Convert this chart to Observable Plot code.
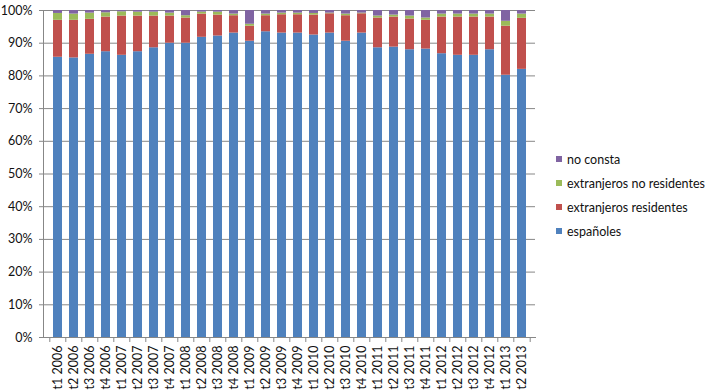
<!DOCTYPE html>
<html>
<head>
<meta charset="utf-8">
<script src="https://cdn.jsdelivr.net/npm/d3@7"></script>
<script src="https://cdn.jsdelivr.net/npm/@observablehq/plot@0.6"></script>
<style>
  body { margin: 0; background: #fff; }
  #wrap { position: relative; width: 709px; height: 392px; font-family: Lato, "Liberation Sans", sans-serif; }
  #legend { position: absolute; left: 556px; top: 147px; font-size: 12.5px; color: #111; }
  .item { height: 24px; display: flex; align-items: center; }
  .sw { width: 6px; height: 6px; margin-right: 5px; }
</style>
</head>
<body>
<div id="wrap"><div id="legend"></div></div>
<script>
const categories = ["t1 2006","t2 2006","t3 2006","t4 2006","t1 2007","t2 2007","t3 2007","t4 2007",
  "t1 2008","t2 2008","t3 2008","t4 2008","t1 2009","t2 2009","t3 2009","t4 2009",
  "t1 2010","t2 2010","t3 2010","t4 2010","t1 2011","t2 2011","t3 2011","t4 2011",
  "t1 2012","t2 2012","t3 2012","t4 2012","t1 2013","t2 2013"];
const espanoles =    [85.7,85.5,86.7,87.4,86.3,87.4,88.6,90.0,90.0,91.8,92.2,93.1,90.6,93.5,93.1,93.1,92.5,93.1,90.6,93.1,88.6,88.8,88.0,88.2,86.7,86.3,86.3,88.0,80.2,82.0];
const residentes =   [11.3,11.5,10.7,10.6,12.0,10.9,9.7,8.3,7.7,7.1,6.4,5.3,4.6,4.9,5.6,5.6,6.1,5.9,7.8,5.9,9.1,9.2,9.4,8.8,11.2,11.7,11.7,10.0,15.0,15.6];
const noResidentes = [2.1,1.9,1.9,1.3,1.3,1.2,1.2,0.9,0.7,0.6,0.9,0.5,0.6,0.5,0.5,0.5,0.5,0.2,0.5,0.2,0.6,0.6,0.9,0.7,0.9,0.9,0.9,0.9,1.5,1.3];
const noConsta =     [0.9,1.1,0.8,0.7,0.4,0.5,0.5,0.8,1.6,0.5,0.5,1.1,4.2,1.1,0.8,0.8,0.9,0.8,1.1,0.8,1.7,1.4,1.7,2.3,1.1,1.1,1.1,1.1,3.3,1.1];
const seriesNames = ["españoles","extranjeros residentes","extranjeros no residentes","no consta"];
const seriesColors = ["#4F81BD","#C0504D","#9BBB59","#8064A2"];
const yTicks = [0,0.1,0.2,0.3,0.4,0.5,0.6,0.7,0.8,0.9,1];

const seriesValues = [espanoles, residentes, noResidentes, noConsta];
const data = [];
seriesValues.forEach((vals, s) => vals.forEach((v, i) => data.push({cat: categories[i], series: seriesNames[s], value: v})));

const step = (709 - 43 - 174) / categories.length;
const font = "Lato, 'Liberation Sans', sans-serif";

const chart = Plot.plot({
  width: 709, height: 392,
  marginLeft: 43, marginRight: 174, marginTop: 10, marginBottom: 55,
  style: {fontFamily: font, fontSize: "12.5px", color: "#111", background: "transparent"},
  x: {domain: categories, paddingInner: 0.45, paddingOuter: 0.225, label: null},
  y: {domain: [0, 1], label: null},
  color: {domain: seriesNames, range: seriesColors},
  marks: [
    Plot.gridY(yTicks, {stroke: "#878787", strokeOpacity: 1}),
    Plot.barY(data, {x: "cat", y: "value", fill: "series", order: seriesNames, offset: "normalize"}),
    Plot.axisY(yTicks, {tickSize: 4, tickPadding: 7, tickFormat: d3.format(".0%"), stroke: "#878787", fill: "#111", label: null}),
    Plot.axisX({tickSize: 0, tickPadding: 8, tickRotate: -90, label: null, fill: "#111"}),
    Plot.axisX({tickSize: 5, tickFormat: () => "", dx: -step / 2, stroke: "#878787", label: null}),
    Plot.axisX([categories[categories.length - 1]], {tickSize: 5, tickFormat: () => "", dx: step / 2, stroke: "#878787", label: null}),
    Plot.frame({anchor: "left", stroke: "#878787"}),
    Plot.frame({anchor: "bottom", stroke: "#878787"})
  ]
});
document.getElementById("wrap").prepend(chart);

const legend = document.getElementById("legend");
for (let i = seriesNames.length - 1; i >= 0; i--) {
  const row = document.createElement("div");
  row.className = "item";
  row.innerHTML = `<span class="sw" style="background:${seriesColors[i]}"></span><span>${seriesNames[i]}</span>`;
  legend.appendChild(row);
}
</script>
</body>
</html>
